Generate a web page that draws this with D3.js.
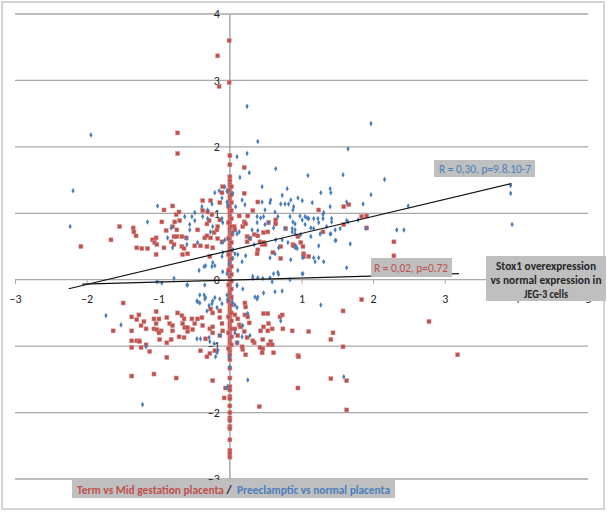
<!DOCTYPE html>
<html><head><meta charset="utf-8">
<script src="https://cdn.jsdelivr.net/npm/d3@7"></script>
<style>
html,body{margin:0;padding:0;background:#fff;}
svg{display:block;}
text{font-family:Carlito,Calibri,Lato,"Open Sans",sans-serif;}
</style></head>
<body>
<svg id="chart" width="608" height="512"></svg>
<script>
// ---------- data ----------
const xTicks = [-3,-2,-1,0,1,2,3,4,5];
const yTicks = [-3,-2,-1,0,1,2,3,4];

// Term vs Mid gestation placenta (red squares)
const termColumnY = [1.87,1.73,1.55,1.49,1.43,1.37,1.31,1.25,1.19,1.13,1.07,1.01,0.95,0.89,0.83,0.77,0.71,0.65,0.59,0.53,0.47,0.41,0.35,0.29,0.23,0.17,0.11,0.05,-0.05,-0.11,-0.17,-0.23,-0.29,-0.35,-0.41,-0.47,-0.53,-0.59,-0.65,-0.71,-0.77,-0.83,-0.89,-0.95,-1.01,-1.07,-1.13,-1.20,-1.33,-1.48,-1.61,-1.66,-1.76,-1.79,-1.90,-2.00,-2.08,-2.12,-2.21,-2.24,-2.41,-2.57,-2.62,-2.67,
  1.40,1.28,1.16,1.04,0.92,0.80,0.68,0.56,0.44,0.32,0.20,0.08,-0.02,-0.14,-0.26,-0.38,-0.50,-0.62,-0.74,-0.86,-0.98,
  1.34,1.10,0.86,0.62,0.38,0.14,-0.08,-0.32,-0.56,-0.80,-1.04];
const termColumnX = [0.00,0.00,0.00,0.00,0.00,0.00,0.00,0.00,0.00,0.00,0.00,0.00,0.00,0.00,0.00,0.00,0.00,0.00,0.00,0.00,0.00,0.00,0.00,0.00,0.00,0.00,0.00,0.00,0.00,0.00,0.00,0.00,0.00,0.00,0.00,0.00,0.00,0.00,0.00,0.00,0.00,0.00,0.00,0.00,0.00,0.00,0.00,0.00,0.00,0.00,0.00,0.00,0.00,0.00,0.00,0.00,0.00,0.00,0.00,0.00,0.00,0.00,0.00,0.00,
  0.02,0.02,0.02,0.02,0.02,0.02,0.02,0.02,0.02,0.02,0.02,0.02,0.02,0.02,0.02,0.02,0.02,0.02,0.02,0.02,0.02,
  -0.02,-0.02,-0.02,-0.02,-0.02,-0.02,-0.02,-0.02,-0.02,-0.02,-0.02];
const termPoints = [
 [-0.01,3.60],[-0.17,3.37],[-0.01,2.97],[-0.15,2.91],[-0.73,2.21],[-0.73,1.90],
 [-2.08,0.50],[-1.66,0.60],[-1.54,0.80],[-1.35,0.78],[-1.34,0.72],[-1.31,0.66],[-1.30,0.48],[-1.23,0.47],[-1.15,0.47],
 [-1.08,0.60],[-1.03,0.63],[-1.05,0.56],[-1.02,0.53],[-1.03,0.38],[-0.95,0.87],[-0.92,1.05],[-0.92,0.48],[-0.89,0.74],
 [-0.82,0.57],[-0.80,1.11],[-0.80,0.80],[-0.78,0.65],[-0.78,0.53],[-0.77,0.87],[-0.75,0.98],[-0.74,0.75],[-0.74,0.65],
 [-0.71,1.02],[-0.70,0.89],[-0.67,0.65],[-0.67,0.50],[-0.66,0.38],[-0.64,0.47],[-0.61,0.63],[-0.59,0.39],[-0.49,0.51],
 [-0.45,0.75],[-0.41,0.51],[-0.38,1.19],[-0.38,1.04],[-0.35,0.63],[-0.32,0.84],[-0.32,0.66],[-0.32,0.50],[-0.31,1.02],
 [-0.29,0.89],[-0.28,0.35],[-0.27,1.19],[-0.27,0.63],[-0.25,0.98],[-0.24,0.48],[-0.22,0.71],[-0.18,0.75],[-0.17,0.80],
 [-0.17,0.62],[-0.14,1.16],[-0.14,0.90],[-0.11,1.31],[-0.11,0.57],[-0.10,1.40],
 [0.03,0.69],[0.06,0.80],[0.07,0.75],[0.13,0.96],[0.18,0.80],[0.20,1.69],[0.20,1.30],[0.20,0.87],[0.22,0.84],[0.24,0.65],
 [0.24,0.57],[0.25,0.96],[0.28,0.62],[0.32,1.04],[0.34,0.68],[0.38,0.39],[0.39,1.17],[0.39,0.66],[0.39,0.45],[0.42,0.57],
 [0.45,0.53],[0.47,0.71],[0.47,0.56],[0.49,0.53],[0.53,0.72],[0.54,0.86],[0.60,0.41],[0.64,0.90],[0.64,0.84],[0.71,0.50],
 [0.71,0.32],[0.78,0.77],[0.88,0.53],[0.89,0.51],[0.95,0.65],[0.99,0.56],[1.02,0.50],[1.03,0.39],[1.03,0.35],[1.10,0.35],
 [1.24,1.05],[1.30,0.72],[1.59,1.10],[1.66,1.13],[1.59,0.83],[1.84,0.95],[1.91,0.96],[1.91,0.78],[2.29,0.57],[2.29,0.36],
 [-1.49,-0.35],[-1.37,-0.56],[-1.27,-0.53],[-1.30,-0.60],[-1.20,-0.63],[-1.24,-0.69],[-1.63,-0.77],[-1.37,-0.77],[-1.17,-0.74],
 [-1.03,-0.48],[-1.06,-0.59],[-0.99,-0.59],[-1.03,-0.66],[-1.06,-0.74],[-1.02,-0.75],[-0.96,-0.77],[-0.99,-0.80],[-0.88,-0.57],
 [-0.84,-0.66],[-0.80,-0.69],[-1.37,-0.92],[-1.30,-0.92],[-1.27,-0.92],[-1.26,-0.93],[-1.37,-1.02],[-1.24,-1.02],[-1.17,-0.98],
 [-1.12,-1.08],[-0.98,-0.90],[-0.88,-0.95],[-0.82,-0.90],[-0.88,-1.17],[-1.37,-1.45],[-1.06,-1.42],[-0.75,-1.48],[-0.80,-0.77],
 [-0.71,-0.86],[-0.73,-0.50],[-0.67,-0.54],[-0.64,-0.59],[-0.66,-0.66],[-0.63,-0.72],[-0.59,-0.72],[-0.53,-0.59],[-0.49,-0.66],
 [-0.45,-0.59],[-0.39,-0.57],[-0.52,-0.75],[-0.38,-0.69],[-0.28,-0.74],[-0.24,-0.71],[-0.24,-0.80],[-0.64,-0.87],[-0.59,-0.78],
 [-0.34,-0.89],[-0.41,-1.07],[-0.32,-1.16],[-0.28,-1.11],[-0.24,-1.52],[-0.21,-1.07],[-0.14,-0.47],[-0.24,-0.50],[-0.27,-0.44],
 [-0.14,-0.57],[-0.11,-0.66],[-0.10,-0.77],[-0.14,-0.84],[-0.08,-1.78],[-0.06,-1.63],
 [0.07,-0.53],[0.11,-0.59],[0.13,-0.68],[0.07,-0.74],[0.11,-0.84],[0.10,-0.95],[0.21,-0.35],[0.22,-0.41],[0.21,-0.53],
 [0.15,-0.71],[0.20,-0.78],[0.24,-0.87],[0.22,-1.13],[0.18,-1.05],[0.17,-1.01],[0.34,-0.95],[0.41,-1.91],[0.43,-0.77],
 [0.47,-0.71],[0.54,-0.66],[0.59,-0.74],[0.53,-0.77],[0.57,-0.93],[0.54,-0.98],[0.46,-1.04],[0.45,-1.10],[0.61,-1.10],
 [0.59,-0.98],[0.74,-0.74],[0.87,-0.77],[0.70,-0.56],[0.73,-0.53],[0.95,-1.14],[0.95,-1.63],[0.25,-0.56],[0.27,-0.65],
 [0.47,-0.51],[0.53,-0.51],[0.46,-0.90],[0.42,-1.02],[0.32,-0.92],[1.84,-0.30],[1.58,-0.47],[1.10,-0.78],[1.44,-0.80],
 [1.41,-0.90],[1.58,-1.01],[0.96,-1.16],[1.41,-1.49],[1.63,-1.52],[1.63,-1.96],[2.78,-0.63],[3.18,-1.13]
];

// Preeclamptic vs normal placenta (blue points)
const preeclampticPoints = [
 [-1.94,2.18],[-2.19,1.34],[-2.23,0.80],[0.24,2.61],[0.39,2.08],[0.24,1.90],[0.10,1.85],[0.27,1.61],[0.64,1.67],[0.14,1.54],
 [1.97,2.35],[1.65,1.97],[1.58,1.58],[2.16,1.51],[1.09,1.57],[1.27,1.31],[1.40,1.37],[1.41,1.31],[1.97,1.28],[2.49,1.11],
 [3.92,1.42],[3.92,1.30],[3.94,0.83],[2.33,0.75],[2.43,0.75],[1.86,1.14],[1.63,1.17],[1.15,1.16],[1.47,0.59],[1.68,0.54],
 [1.24,0.51],[1.90,0.77],[1.63,0.89],[1.79,0.90],[1.40,0.69],[1.47,0.75],[1.31,1.01],[0.85,1.20],[0.95,1.23],[1.01,1.19],
 [0.89,1.10],[0.88,1.05],[1.40,1.10],[0.84,0.95],[0.88,0.87],[0.91,0.84],[0.98,0.96],[1.05,0.95],[1.08,0.93],[1.01,0.90],
 [1.10,0.92],[1.17,0.92],[1.23,0.92],[1.30,0.98],[1.30,0.92],[1.42,0.92],[1.42,0.87],[1.24,0.86],[1.05,0.83],[0.87,0.77],
 [0.91,0.75],[1.13,0.78],[1.17,0.77],[1.35,0.80],[1.65,0.87],[1.54,0.77],[0.87,0.72],[0.91,0.69],[0.99,0.68],[1.13,0.65],
 [1.26,0.69],[1.41,0.69],[0.92,0.51],[0.91,0.48],[0.94,0.47],[1.48,0.59],[0.85,0.30],[1.02,0.33],[1.17,0.33],[1.24,0.33],
 [1.19,0.27],[1.31,0.27],[1.63,0.18],[1.01,0.09],[0.45,1.40],[0.04,1.30],[-0.07,1.40],[-0.04,1.33],[-0.15,1.34],[-0.21,1.31],
 [-0.11,1.23],[-0.04,1.17],[-0.03,1.13],[-0.31,1.05],[0.08,1.10],[0.17,1.20],[0.21,1.13],[0.45,1.17],[0.56,1.16],[0.57,1.20],
 [0.49,1.05],[0.73,1.27],[0.80,1.37],[0.71,1.14],[0.77,1.14],[0.82,1.14],[0.63,1.02],[0.67,0.95],[0.38,0.95],[0.43,0.93],
 [0.47,0.95],[0.38,0.86],[0.49,0.83],[0.54,0.86],[0.31,0.75],[0.39,0.74],[0.28,0.63],[0.13,0.72],[0.10,0.69],[0.04,0.71],
 [0.04,0.45],[0.07,0.39],[0.11,0.38],[0.22,0.36],[0.17,0.27],[0.34,0.53],[0.63,0.39],[0.61,0.78],[0.77,0.77],[0.64,0.60],
 [0.73,0.60],[0.81,0.56],[0.68,0.48],[0.56,0.33],[0.67,0.11],[0.32,0.05],[0.39,0.03],[-0.10,0.12],[-0.04,0.09],[-0.25,0.20],
 [-0.34,0.21],[-0.10,0.41],[-0.11,0.35],[-0.07,0.60],[-0.11,0.56],[-0.11,0.92],[-0.10,0.86],[-0.24,0.80],[-0.27,0.72],
 [-0.31,0.92],[-0.38,0.95],[-0.49,0.89],[-0.56,0.83],[-0.49,1.01],[-0.53,0.95],[-0.63,0.95],[-0.39,1.10],[-0.25,1.14],
 [-0.56,0.75],[-0.60,0.62],[-0.45,0.56],[-0.60,0.53],[-1.01,1.11],[-1.15,0.87],[-0.87,0.63],[-0.82,0.78],[-0.80,0.48],
 [-1.73,-0.54],[-1.52,-0.68],[-1.17,-1.01],[-1.22,-1.88],[-1.02,-0.03],[-0.95,-0.05],[-0.78,0.02],[-0.60,-0.08],[-0.46,-0.32],
 [-0.42,-0.35],[-0.36,-0.23],[-0.35,-0.29],[-0.41,-0.89],[-0.29,-0.87],[-0.22,-0.96],[-0.18,-1.10],[-0.13,-0.84],[-0.43,0.14],
 [-0.36,0.20],[-0.24,0.26],[-0.21,0.21],[-0.01,0.24],[0.04,0.32],[0.11,0.14],[0.10,-0.09],[0.18,-0.14],[0.32,0.02],
 [0.04,-0.35],[0.07,-0.38],[0.10,-0.42],[0.18,-0.69],[0.25,-1.51],[0.25,-0.51],[0.28,-0.84],[0.38,-0.29],[0.39,-0.26],
 [0.46,0.02],[0.56,0.03],[0.61,0.09],[0.73,-0.17],[0.71,-0.62],[0.68,0.08],[0.84,0.00],[1.02,0.09],[-0.24,-0.32],[-0.14,-0.29],
 [-0.18,-0.42],[-0.11,-0.36],[-0.29,-0.39],[-0.32,-0.47],[-0.04,-1.63],[-0.01,-1.16],[-0.03,-1.61],[0.00,-1.31],[-0.20,-1.16],
 [-0.17,-1.07],[0.10,-0.08],[0.35,-0.26],[0.47,-0.20],[0.63,-0.18],[0.59,-0.03],[0.07,-0.80],[0.11,-0.95],[0.17,-0.86],
 [-0.28,-0.93],[-0.46,-0.89],[-0.04,-0.23],[-0.03,-0.30],[-0.59,-0.08],[-0.35,-0.08],[-0.42,-0.23],[-0.34,-0.27],[-0.45,-0.33],
 [-0.21,-0.27],[-0.25,-0.36],[1.27,-0.38],[1.59,-1.46]
];

// linear trend lines: [xStart, xEnd, intercept, slope]
const trendPre  = [-2.25, 3.93, 0.44, 0.256];
const trendTerm = [-2.06, 3.20, -0.005, 0.03];

const labelPre  = "R = 0,30, p=9.8.10-7";
const labelTerm = "R = 0,02, p=0.72";
const boxLines  = ["Stox1 overexpression","vs normal expression in","JEG-3 cells"];
const legendTerm = "Term vs Mid gestation placenta";
const legendSep  = "/";
const legendPre  = "Preeclamptic vs normal placenta";

// ---------- drawing ----------
const RED = "#c0504d", BLUE = "#4a7ebb", GRID = "#a9a9a9";
const svg = d3.select("#chart");
const x = d3.scaleLinear().domain([-3,5]).range([15,588]);
const y = d3.scaleLinear().domain([-3,4]).range([479,14]);

// outer frame
svg.append("rect").attr("x",2).attr("y",2).attr("width",602).attr("height",507)
  .attr("fill","#fff").attr("stroke","#c6c6c6").attr("stroke-width",1.5);

// horizontal gridlines
svg.append("g").selectAll("line").data(yTicks).join("line")
  .attr("x1",x(-3)).attr("x2",x(5)).attr("y1",d=>y(d)).attr("y2",d=>y(d))
  .attr("stroke",GRID).attr("stroke-width",1.3);
// vertical axis line at x=0
svg.append("line").attr("x1",x(0)).attr("x2",x(0)).attr("y1",y(4)).attr("y2",y(-3))
  .attr("stroke",GRID).attr("stroke-width",1.5);

// x axis (through y=0)
const xAxis = svg.append("g").attr("transform",`translate(0,${y(0)})`)
  .call(d3.axisBottom(x).tickValues(xTicks).tickSize(4).tickPadding(11).tickFormat(d3.format("d")));
xAxis.select(".domain").remove();
xAxis.selectAll("line").attr("stroke",GRID);
xAxis.selectAll("text").attr("font-size",12).attr("fill","#222").style("font-family","Carlito,Calibri,Lato,sans-serif");

// y axis labels at x=0
const yAxis = svg.append("g").attr("transform",`translate(${x(0)},0)`)
  .call(d3.axisLeft(y).tickValues(yTicks).tickSize(0).tickPadding(10).tickFormat(d3.format("d")));
yAxis.select(".domain").remove();
yAxis.selectAll("text").attr("font-size",12).attr("fill","#222").style("font-family","Carlito,Calibri,Lato,sans-serif");

// red points
const termAll = termColumnY.map((v,i)=>[termColumnX[i],v]).concat(termPoints);
svg.append("g").selectAll("rect").data(termAll).join("rect")
  .attr("x",d=>x(d[0])-2).attr("y",d=>y(d[1])-2).attr("width",4).attr("height",4)
  .attr("fill",RED).attr("stroke","#d48a88").attr("stroke-width",0.5);

// blue points
const diamond = d3.symbol().type(d3.symbolDiamond).size(9);
svg.append("g").selectAll("path").data(preeclampticPoints).join("path")
  .attr("d",diamond).attr("transform",d=>`translate(${x(d[0])},${y(d[1])})`)
  .attr("fill",BLUE);

// trend lines
[trendPre,trendTerm].forEach(t=>{
  svg.append("line")
    .attr("x1",x(t[0])).attr("y1",y(t[2]+t[3]*t[0]))
    .attr("x2",x(t[1])).attr("y2",y(t[2]+t[3]*t[1]))
    .attr("stroke","#111").attr("stroke-width",1.2);
});

// annotation boxes
function box(x0,y0,w,h){
  svg.append("rect").attr("x",x0).attr("y",y0).attr("width",w).attr("height",h).attr("fill","#bfbfbf");
}
box(434,160,101,17);
svg.append("text").attr("x",439).attr("y",172.5).attr("font-size",12).attr("fill",BLUE)
  .attr("textLength",92).attr("lengthAdjust","spacingAndGlyphs").text(labelPre);

box(371,258,81,19);
svg.append("text").attr("x",374).attr("y",272).attr("font-size",12).attr("fill",RED)
  .attr("textLength",74).attr("lengthAdjust","spacingAndGlyphs").text(labelTerm);

box(486,256,120,45);
const boxW = [100,111,44];
boxLines.forEach((s,i)=>{
  svg.append("text").attr("x",546).attr("y",270+i*14).attr("text-anchor","middle")
    .attr("font-size",11.5).attr("font-weight","bold").attr("fill","#262626")
    .attr("textLength",boxW[i]).attr("lengthAdjust","spacingAndGlyphs").text(s);
});

// legend
box(72,480,323,18);
svg.append("text").attr("x",77).attr("y",494).attr("font-size",12).attr("font-weight","bold")
  .attr("fill",RED).attr("textLength",147).attr("lengthAdjust","spacingAndGlyphs").text(legendTerm);
svg.append("text").attr("x",229).attr("y",494).attr("font-size",12).attr("font-weight","bold")
  .attr("fill","#222").attr("text-anchor","middle").text(legendSep);
svg.append("text").attr("x",237).attr("y",494).attr("font-size",12).attr("font-weight","bold")
  .attr("fill",BLUE).attr("textLength",153).attr("lengthAdjust","spacingAndGlyphs").text(legendPre);
</script>
</body></html>
